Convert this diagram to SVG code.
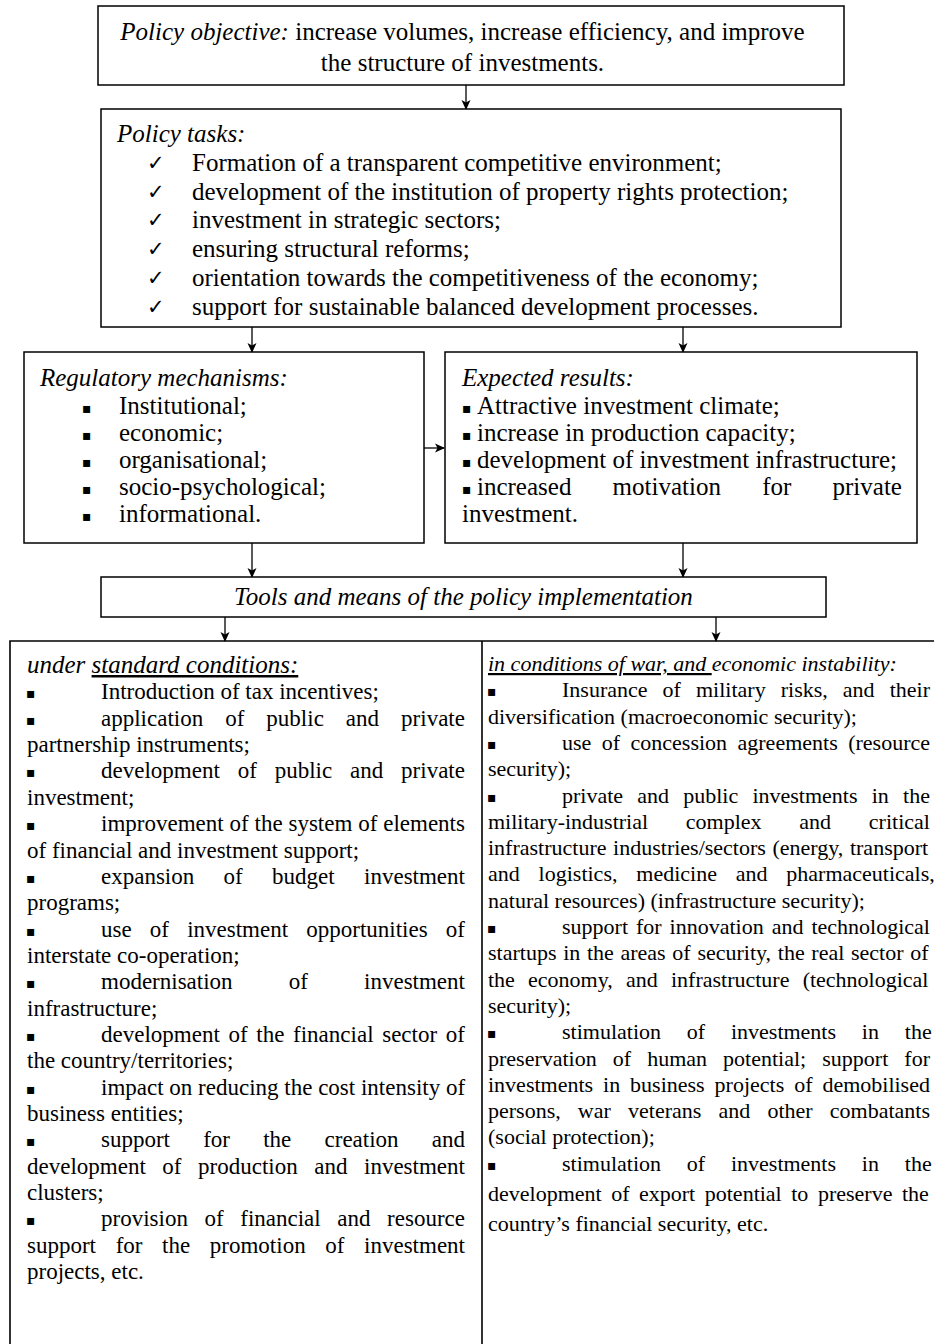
<svg xmlns="http://www.w3.org/2000/svg" width="934" height="1344" viewBox="0 0 934 1344">
<style>
.box{fill:#fff;stroke:#000;stroke-width:1.5}
.t{font-family:"Liberation Serif","Times New Roman",serif;fill:#000}
.s25{font-size:25px}
.s23{font-size:23px}
.s22{font-size:22px}
.it{font-style:italic}
.u{text-decoration:underline}
.sym{font-family:"DejaVu Sans",sans-serif;fill:#000}
.chk{font-size:21px}
.sq{font-size:14px}
.conn line{stroke:#000;stroke-width:1.3;marker-end:url(#ah)}
.frame{stroke:#000;stroke-width:1.6;fill:none}
</style>
<defs>
<marker id="ah" markerWidth="10" markerHeight="11" refX="9" refY="5.5" orient="auto" markerUnits="userSpaceOnUse">
<path d="M0,1 L10,5.5 L0,10 L2.5,5.5 Z" fill="#000"/>
</marker>
</defs>
<rect width="934" height="1344" fill="#fff"/>

<g id="connectors" class="conn">
<line x1="466" y1="85" x2="466" y2="109"/>
<line x1="252" y1="327" x2="252" y2="352"/>
<line x1="683" y1="327" x2="683" y2="352"/>
<line x1="424" y1="448" x2="444" y2="448"/>
<line x1="252" y1="543" x2="252" y2="577"/>
<line x1="683" y1="543" x2="683" y2="577"/>
<line x1="225" y1="617" x2="225" y2="641"/>
<line x1="716" y1="617" x2="716" y2="641"/>
</g>

<g id="objective">
<rect class="box" x="98" y="6" width="746" height="79"/>
<text class="t s25" x="462.5" y="39.5" text-anchor="middle"><tspan class="it">Policy objective:</tspan> increase volumes, increase efficiency, and improve</text>
<text class="t s25" x="462.5" y="70.5" text-anchor="middle">the structure of investments.</text>
</g>

<g id="tasks">
<rect class="box" x="101" y="109" width="740" height="218"/>
<text class="t s25 it" x="117" y="142">Policy tasks:</text>
<text class="sym chk" x="147" y="170">✓</text>
<text class="t s25" x="192" y="171">Formation of a transparent competitive environment;</text>
<text class="sym chk" x="147" y="198.5">✓</text>
<text class="t s25" x="192" y="199.5">development of the institution of property rights protection;</text>
<text class="sym chk" x="147" y="227">✓</text>
<text class="t s25" x="192" y="228">investment in strategic sectors;</text>
<text class="sym chk" x="147" y="256">✓</text>
<text class="t s25" x="192" y="257">ensuring structural reforms;</text>
<text class="sym chk" x="147" y="285">✓</text>
<text class="t s25" x="192" y="286">orientation towards the competitiveness of the economy;</text>
<text class="sym chk" x="147" y="313.5">✓</text>
<text class="t s25" x="192" y="314.5">support for sustainable balanced development processes.</text>
</g>

<g id="mechanisms">
<rect class="box" x="24" y="352" width="400" height="191"/>
<text class="t s25 it" x="40" y="386">Regulatory mechanisms:</text>
<text class="sym sq" x="82" y="413">▪</text>
<text class="t s25" x="119" y="414">Institutional;</text>
<text class="sym sq" x="82" y="440">▪</text>
<text class="t s25" x="119" y="441">economic;</text>
<text class="sym sq" x="82" y="467">▪</text>
<text class="t s25" x="119" y="468">organisational;</text>
<text class="sym sq" x="82" y="494">▪</text>
<text class="t s25" x="119" y="495">socio-psychological;</text>
<text class="sym sq" x="82" y="521">▪</text>
<text class="t s25" x="119" y="522">informational.</text>
</g>

<g id="results">
<rect class="box" x="445" y="352" width="472" height="191"/>
<text class="t s25 it" x="462" y="386">Expected results:</text>
<text class="sym sq" x="462" y="413">▪</text>
<text class="t s25" x="477" y="414">Attractive investment climate;</text>
<text class="sym sq" x="462" y="440">▪</text>
<text class="t s25" x="477" y="441">increase in production capacity;</text>
<text class="sym sq" x="462" y="467">▪</text>
<text class="t s25" x="477" y="468">development of investment infrastructure;</text>
<text class="sym sq" x="462" y="494">▪</text>
<text class="t s25" x="477" y="495" word-spacing="34.97">increased motivation for private</text>
<text class="t s25" x="462" y="522">investment.</text>
</g>

<g id="tools">
<rect class="box" x="101" y="577" width="725" height="40"/>
<text class="t s25 it" x="463.5" y="605" text-anchor="middle">Tools and means of the policy implementation</text>
</g>

<g id="table-frame">
<path class="frame" d="M10,1344 V641 H934 M482,641 V1344"/>
</g>

<g id="standard-conditions">
<text class="t it" x="27" y="673" font-size="25">under <tspan class="u">standard conditions:</tspan></text>
<text class="sym sq" x="26" y="698">▪</text>
<text class="t s23" x="101" y="699">Introduction of tax incentives;</text>
<text class="sym sq" x="26" y="725">▪</text>
<text class="t s23" x="101" y="726" word-spacing="16.26">application of public and private</text>
<text class="t s23" x="27" y="752">partnership instruments;</text>
<text class="sym sq" x="26" y="777">▪</text>
<text class="t s23" x="101" y="778" word-spacing="12.11">development of public and private</text>
<text class="t s23" x="27" y="805">investment;</text>
<text class="sym sq" x="26" y="830">▪</text>
<text class="t s23" x="101" y="831" word-spacing="0.1">improvement of the system of elements</text>
<text class="t s23" x="27" y="857.5">of financial and investment support;</text>
<text class="sym sq" x="26" y="883">▪</text>
<text class="t s23" x="101" y="884" word-spacing="23.59">expansion of budget investment</text>
<text class="t s23" x="27" y="910">programs;</text>
<text class="sym sq" x="26" y="935.5">▪</text>
<text class="t s23" x="101" y="936.5" word-spacing="12.41">use of investment opportunities of</text>
<text class="t s23" x="27" y="963">interstate co-operation;</text>
<text class="sym sq" x="26" y="988">▪</text>
<text class="t s23" x="101" y="989" word-spacing="50.39">modernisation of investment</text>
<text class="t s23" x="27" y="1015.6">infrastructure;</text>
<text class="sym sq" x="26" y="1041">▪</text>
<text class="t s23" x="101" y="1042" word-spacing="2.92">development of the financial sector of</text>
<text class="t s23" x="27" y="1068">the country/territories;</text>
<text class="sym sq" x="26" y="1093.6">▪</text>
<text class="t s23" x="101" y="1094.6">impact on reducing the cost intensity of</text>
<text class="t s23" x="27" y="1121">business entities;</text>
<text class="sym sq" x="26" y="1146">▪</text>
<text class="t s23" x="101" y="1147" word-spacing="27.45">support for the creation and</text>
<text class="t s23" x="27" y="1174" word-spacing="10.8">development of production and investment</text>
<text class="t s23" x="27" y="1200">clusters;</text>
<text class="sym sq" x="26" y="1225">▪</text>
<text class="t s23" x="101" y="1226" word-spacing="10.84">provision of financial and resource</text>
<text class="t s23" x="27" y="1253" word-spacing="13.88">support for the promotion of investment</text>
<text class="t s23" x="27" y="1279">projects, etc.</text>
</g>

<g id="war-conditions">
<text class="t s22 it" x="488" y="671"><tspan class="u">in conditions of war, and </tspan>economic instability:</text>
<text class="sym sq" x="487" y="696">▪</text>
<text class="t s22" x="562" y="697" word-spacing="9.57">Insurance of military risks, and their</text>
<text class="t s22" x="488" y="723.6">diversification (macroeconomic security);</text>
<text class="sym sq" x="487" y="749">▪</text>
<text class="t s22" x="562" y="750" word-spacing="4.95">use of concession agreements (resource</text>
<text class="t s22" x="488" y="776">security);</text>
<text class="sym sq" x="487" y="801.5">▪</text>
<text class="t s22" x="562" y="802.5" word-spacing="8.7">private and public investments in the</text>
<text class="t s22" x="488" y="829" word-spacing="32.25">military-industrial complex and critical</text>
<text class="t s22" x="488" y="855" word-spacing="1.11">infrastructure industries/sectors (energy, transport</text>
<text class="t s22" x="488" y="881.4" word-spacing="13.34">and logistics, medicine and pharmaceuticals,</text>
<text class="t s22" x="488" y="907.7">natural resources) (infrastructure security);</text>
<text class="sym sq" x="487" y="933">▪</text>
<text class="t s22" x="562" y="934" word-spacing="2.48">support for innovation and technological</text>
<text class="t s22" x="488" y="960.3" word-spacing="1.19">startups in the areas of security, the real sector of</text>
<text class="t s22" x="488" y="986.6" word-spacing="7.7">the economy, and infrastructure (technological</text>
<text class="t s22" x="488" y="1013">security);</text>
<text class="sym sq" x="487" y="1038">▪</text>
<text class="t s22" x="562" y="1039" word-spacing="20.31">stimulation of investments in the</text>
<text class="t s22" x="488" y="1065.5" word-spacing="10.56">preservation of human potential; support for</text>
<text class="t s22" x="488" y="1092" word-spacing="4.43">investments in business projects of demobilised</text>
<text class="t s22" x="488" y="1118" word-spacing="11.66">persons, war veterans and other combatants</text>
<text class="t s22" x="488" y="1144.4">(social protection);</text>
<text class="sym sq" x="487" y="1169.7">▪</text>
<text class="t s22" x="562" y="1170.7" word-spacing="20.31">stimulation of investments in the</text>
<text class="t s22" x="488" y="1201" word-spacing="4.03">development of export potential to preserve the</text>
<text class="t s22" x="488" y="1231">country’s financial security, etc.</text>
</g>
</svg>
